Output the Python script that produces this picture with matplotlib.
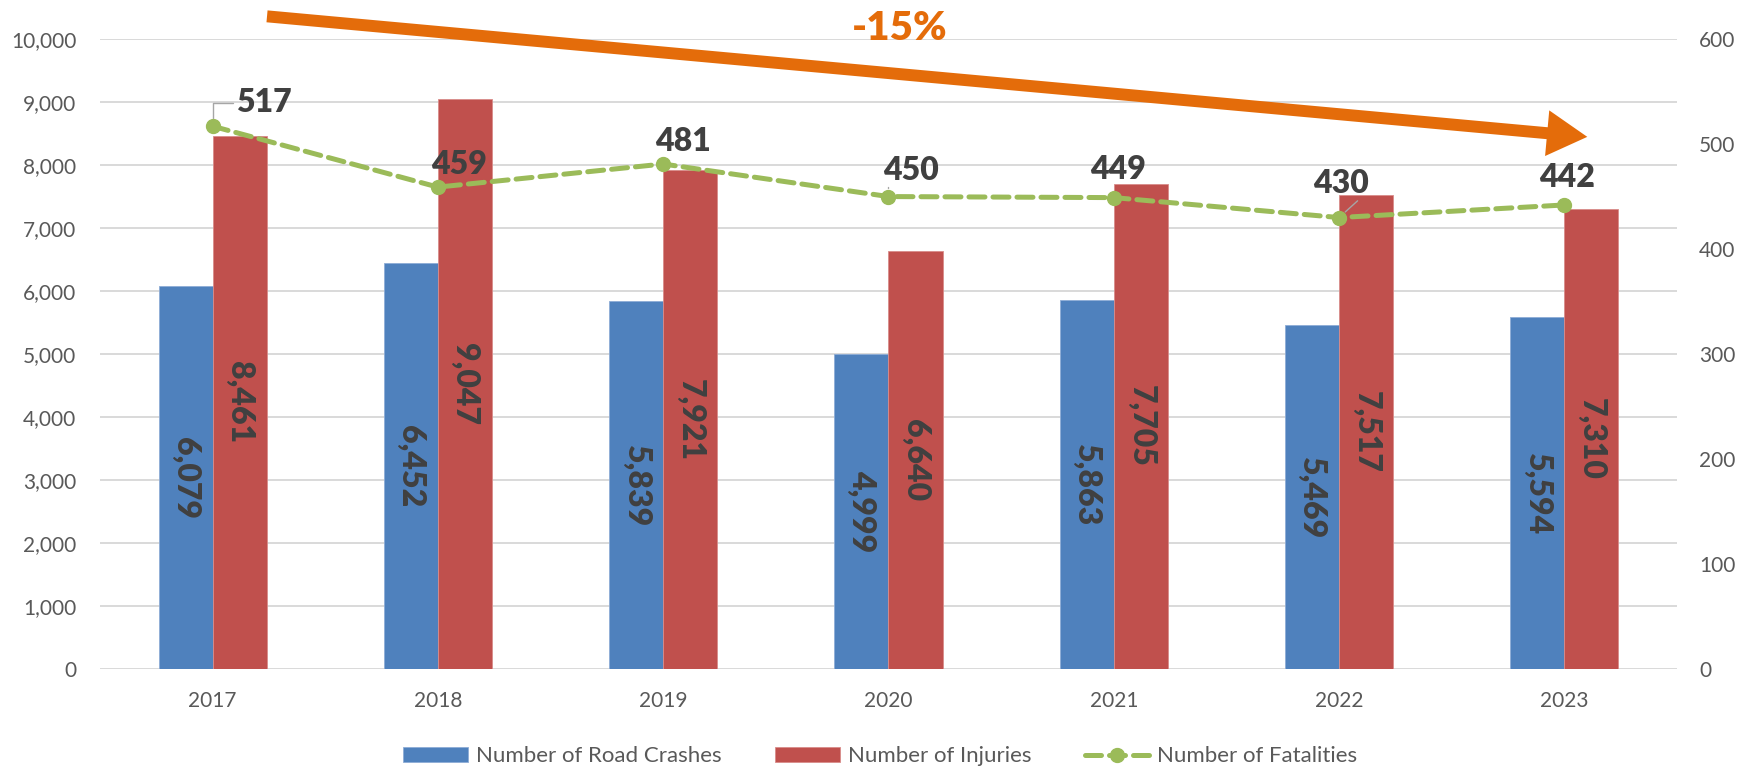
import numpy as np
import matplotlib
matplotlib.use("Agg")
import matplotlib.pyplot as plt
from matplotlib.patches import FancyArrowPatch

plt.rcParams['font.family'] = ['Lato', 'DejaVu Sans']

# data
years = ['2017', '2018', '2019', '2020', '2021', '2022', '2023']
crashes = [6079, 6452, 5839, 4999, 5863, 5469, 5594]
injuries = [8461, 9047, 7921, 6640, 7705, 7517, 7310]
fatalities = [517, 459, 481, 450, 449, 430, 442]

# label offsets (points) for the fatality labels
lab_dx = [37, 15, 14.5, 16.5, 3, 1.5, 2]
lab_dy = [17, 16, 16, 19, 20.5, 24.5, 19.5]

blue = '#4F81BD'
red = '#C0504D'
green = '#9BBB59'
orange = '#E46C0A'
txt = '#404040'
tick = '#595959'
grid = '#D9D9D9'

fig = plt.figure(figsize=(17.5, 7.66), dpi=100)
ax = fig.add_axes([0.0571, 0.1266, 0.9012, 0.8224])
ax2 = ax.twinx()

x = np.arange(len(years))
w = 0.24
b1 = ax.bar(x - w / 2, crashes, w, color=blue, edgecolor='#8EACD6', linewidth=0.6,
            label='Number of Road Crashes', zorder=2)
b2 = ax.bar(x + w / 2, injuries, w, color=red, edgecolor='#D98C8A', linewidth=0.6,
            label='Number of Injuries', zorder=2)
for b in (b1, b2):
    ax.bar_label(b, labels=[f'{v:,}' for v in b.datavalues], label_type='center',
                 rotation=-90, fontsize=23, fontweight='heavy', color=txt)

ax.set_xlim(-0.5, len(years) - 0.5)
ax.set_ylim(0, 10000)
ax.set_yticks(np.arange(0, 10001, 1000))
ax.set_yticklabels([f'{v:,}' for v in range(0, 10001, 1000)])
ax.set_xticks(x)
ax.set_xticklabels(years)
ax.yaxis.grid(True, color=grid, linewidth=1.4, zorder=0)
ax.set_axisbelow(True)
for s in ax.spines.values():
    s.set_visible(False)
for s in ax2.spines.values():
    s.set_visible(False)
ax.tick_params(axis='both', length=0, labelsize=15, labelcolor=tick)
ax.tick_params(axis='y', pad=17)
ax.tick_params(axis='x', pad=16)

line, = ax2.plot(x, fatalities, color=green, linewidth=3.6, linestyle=(0, (3.2, 1.6)),
                 dash_capstyle='round', marker='o', markersize=10,
                 label='Number of Fatalities', zorder=3)
ax2.set_ylim(0, 600)
ax2.set_yticks(np.arange(0, 601, 100))
ax2.tick_params(axis='y', length=0, labelsize=15, labelcolor=tick, pad=16)

leader = dict(arrowstyle='-', color='#A6A6A6', lw=1.0, shrinkA=0, shrinkB=6)
for i, v in enumerate(fatalities):
    kw = {}
    if i in (0, 3):
        kw['arrowprops'] = dict(leader, relpos=(0, 0.5),
                                connectionstyle='angle,angleA=180,angleB=90,rad=0')
    elif i == 5:
        kw['arrowprops'] = dict(leader, relpos=(0.85, 0.0), connectionstyle='arc3')
    ax2.annotate(str(v), (x[i], v), xytext=(lab_dx[i], lab_dy[i]),
                 textcoords='offset points', ha='center', va='center',
                 fontsize=23, fontweight='heavy', color=txt, **kw)

# trend arrow and label
arr = FancyArrowPatch((0.151, 0.979), (0.9086, 0.821), transform=fig.transFigure,
                      arrowstyle='simple,head_length=29,head_width=33,tail_width=8.6',
                      mutation_scale=1, color=orange, linewidth=0)
fig.patches.append(arr)
fig.text(0.514, 0.963, '-15%', ha='center', va='center', fontsize=29,
         fontweight='heavy', color=orange)

handles = [b1, b2, line]
leg = fig.legend(handles, [h.get_label() for h in handles], loc='center',
                 bbox_to_anchor=(0.503, 0.0126), ncol=3, frameon=False, fontsize=16,
                 handlelength=2.93, handletextpad=0.35, columnspacing=2.4,
                 labelcolor=tick)

fig.savefig('out.png', dpi=100)
